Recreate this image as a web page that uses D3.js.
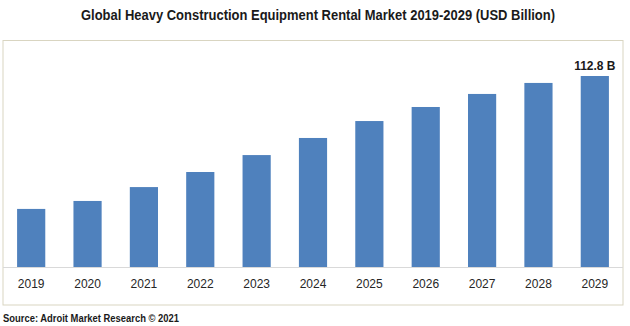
<!DOCTYPE html>
<html><head><meta charset="utf-8">
<script src="https://cdn.jsdelivr.net/npm/d3@7"></script>
<style>body{margin:0;background:#fff;}svg{display:block;}</style>
</head><body>
<svg id="c" width="630" height="326"></svg>
<script>
const years = ["2019","2020","2021","2022","2023","2024","2025","2026","2027","2028","2029"];
const values = [34.3, 39.0, 47.2, 56.1, 66.1, 76.2, 86.2, 94.5, 102.2, 108.7, 112.8];
const labelText = "112.8 B";
const titleText = "Global Heavy Construction Equipment Rental Market 2019-2029 (USD Billion)";
const sourceText = "Source: Adroit Market Research © 2021";

(function(){
const svg = d3.select("#c");
const fL = 3, fR = 623, fT = 40.5, fB = 305, axisY = 267;

svg.append("rect").attr("x", fL).attr("y", fT).attr("width", fR-fL).attr("height", fB-fT)
  .attr("fill", "#fff").attr("stroke", "#d9d5c1").attr("stroke-width", 1);

svg.append("text").attr("x", 318).attr("y", 20).attr("text-anchor", "middle")
  .attr("font-family", "'Liberation Sans Narrow','Arial Narrow','Liberation Sans',Arial,sans-serif")
  .attr("font-weight", "bold").attr("font-size", 14).attr("fill", "#1a1a1a")
  .attr("textLength", 474).attr("lengthAdjust", "spacingAndGlyphs").text(titleText);

const x = d3.scaleBand().domain(years).range([fL, fR]).paddingInner(0.5).paddingOuter(0.25);
const y = d3.scaleLinear().domain([0, 112.8]).range([axisY, 76]);

svg.selectAll("rect.bar").data(values).join("rect").attr("class", "bar")
  .attr("x", (d, i) => x(years[i])).attr("width", x.bandwidth())
  .attr("y", d => y(d)).attr("height", d => axisY - y(d)).attr("fill", "#4f81bd");

const ax = svg.append("g").attr("transform", `translate(0,${axisY})`)
  .call(d3.axisBottom(x).tickSize(0).tickPadding(12));
ax.select(".domain").attr("stroke", "#d9d9d9").attr("d", `M${fL},0.5H${fR}`);
ax.selectAll("text").attr("font-family", "'Liberation Sans',Arial,sans-serif").attr("font-size", 12).attr("fill", "#262626");

svg.append("text").attr("x", x("2029") + x.bandwidth()/2).attr("y", 70).attr("text-anchor", "middle")
  .attr("font-family", "'Liberation Sans',Arial,sans-serif").attr("font-weight", "bold").attr("font-size", 12)
  .attr("fill", "#1a1a1a").text(labelText);

svg.append("text").attr("x", 3).attr("y", 322)
  .attr("font-family", "'Liberation Sans Narrow','Arial Narrow','Liberation Sans',Arial,sans-serif")
  .attr("font-weight", "bold").attr("font-size", 10.5).attr("fill", "#1a1a1a")
  .attr("textLength", 176).attr("lengthAdjust", "spacingAndGlyphs").text(sourceText);
})();
</script>
</body></html>
